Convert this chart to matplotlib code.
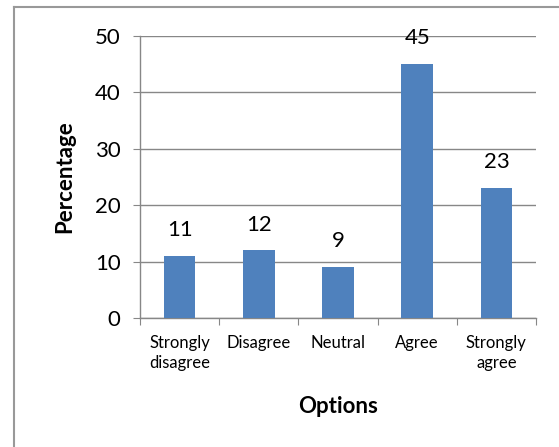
import matplotlib.pyplot as plt
from matplotlib.lines import Line2D

options = ["Strongly\ndisagree", "Disagree", "Neutral", "Agree", "Strongly\nagree"]
percentages = [11, 12, 9, 45, 23]
y_ticks = [0, 10, 20, 30, 40, 50]

W, H = 559, 447
plt.rcParams['font.family'] = ['Lato', 'DejaVu Sans']

fig = plt.figure(figsize=(W / 100, H / 100), dpi=100)
# axes box in pixel terms: x 140..536, y 36..318
ax = fig.add_axes([140 / W, 1 - 318 / H, (536 - 140) / W, (318 - 36) / H])

grey = '#878787'
x = range(len(options))
bars = ax.bar(x, percentages, width=0.40, color='#4F81BD', zorder=3)
for b, v in zip(bars, percentages):
    ax.text(b.get_x() + b.get_width() / 2, v + 2.8, str(v),
            ha='center', va='bottom', fontsize=16)

ax.set_xlim(-0.5, len(options) - 0.5)
ax.set_ylim(0, 50)
ax.set_yticks(y_ticks)
ax.tick_params(axis='y', labelsize=16, length=5, color=grey, direction='out', pad=9)
ax.yaxis.grid(True, color=grey, linewidth=1.0, zorder=0)

# category ticks sit on the boundaries between bars
ax.set_xticks([i - 0.5 for i in range(len(options) + 1)])
ax.set_xticklabels([])
ax.set_xticks(list(x), minor=True)
ax.set_xticklabels(options, minor=True, fontsize=12, linespacing=1.3)
ax.tick_params(axis='x', which='major', length=5, color=grey, direction='out')
ax.tick_params(axis='x', which='minor', length=0, pad=12)

for side in ['top', 'right']:
    ax.spines[side].set_visible(False)
for side in ['left', 'bottom']:
    ax.spines[side].set_color(grey)
    ax.spines[side].set_linewidth(1.0)

ax.set_ylabel('Percentage', fontsize=16, fontweight='bold', labelpad=14)
ax.set_xlabel('Options', fontsize=16, fontweight='bold', labelpad=18)

# chart area border (left and top edges)
fig.add_artist(Line2D([13.5 / W, 13.5 / W], [0, 1 - 6.5 / H], transform=fig.transFigure,
                      color='#999999', linewidth=1.5))
fig.add_artist(Line2D([13.5 / W, 1], [1 - 6.5 / H, 1 - 6.5 / H], transform=fig.transFigure,
                      color='#999999', linewidth=1.5))

fig.savefig('out.png', dpi=100, facecolor='white')
